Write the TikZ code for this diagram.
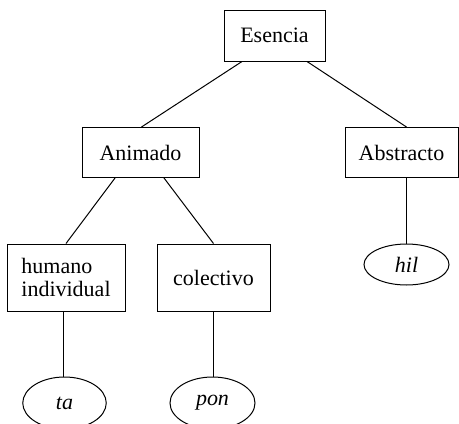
\documentclass[tikz,border=0pt]{standalone}
\usepackage{fontspec}
\setmainfont{Liberation Serif}
\newfontfamily\tmsfont{Liberation Serif}
\usetikzlibrary{shapes.geometric}
\begin{document}
\begin{tikzpicture}[x=1pt,y=-1pt,
  every node/.style={font=\tmsfont\fontsize{22}{23}\selectfont},
  box/.style={draw,line width=1pt,rectangle,inner sep=0pt},
  oval/.style={draw,line width=1pt,ellipse,inner sep=0pt,font=\tmsfont\fontsize{22}{23}\selectfont\itshape},
  edge/.style={line width=1pt}]
\useasboundingbox (0,0) rectangle (459,424);
\node[box,minimum width=101pt,minimum height=51pt] (esencia) at (274.5,35.5) {Esencia};
\node[box,minimum width=117pt,minimum height=50pt] (animado) at (140.5,152.5) {Animado};
\node[box,minimum width=113pt,minimum height=50pt] (abstracto) at (401.5,152.5) {Abstracto};
\node[box,minimum width=118pt,minimum height=67pt,align=left] (humano) at (66,277.5) {humano\\individual};
\node[box,minimum width=113pt,minimum height=67pt] (colectivo) at (213.5,277.5) {colectivo};
\node[oval,minimum width=83.5pt,minimum height=52pt] (ta) at (64.5,403) {ta};
\node[oval,minimum width=85pt,minimum height=52pt] (pon) at (212.5,403) {pon};
\node[oval,minimum width=85pt,minimum height=41pt] (hil) at (406.5,264.5) {hil};
\draw[edge] ([xshift=-32.5pt]esencia.south) -- ([xshift=1pt]animado.north);
\draw[edge] ([xshift=32.5pt]esencia.south) -- ([xshift=5pt]abstracto.north);
\draw[edge] ([xshift=-2.5pt]humano.south) -- ([xshift=-1pt]ta.north);
\draw[edge] ([xshift=-25.5pt]animado.south) -- (humano.north);
\draw[edge] ([xshift=23.5pt]animado.south) -- (colectivo.north);
\draw[edge] (colectivo.south) -- ([xshift=1pt]pon.north);
\draw[edge] ([xshift=5pt]abstracto.south) -- (hil.north);
\end{tikzpicture}
\end{document}
